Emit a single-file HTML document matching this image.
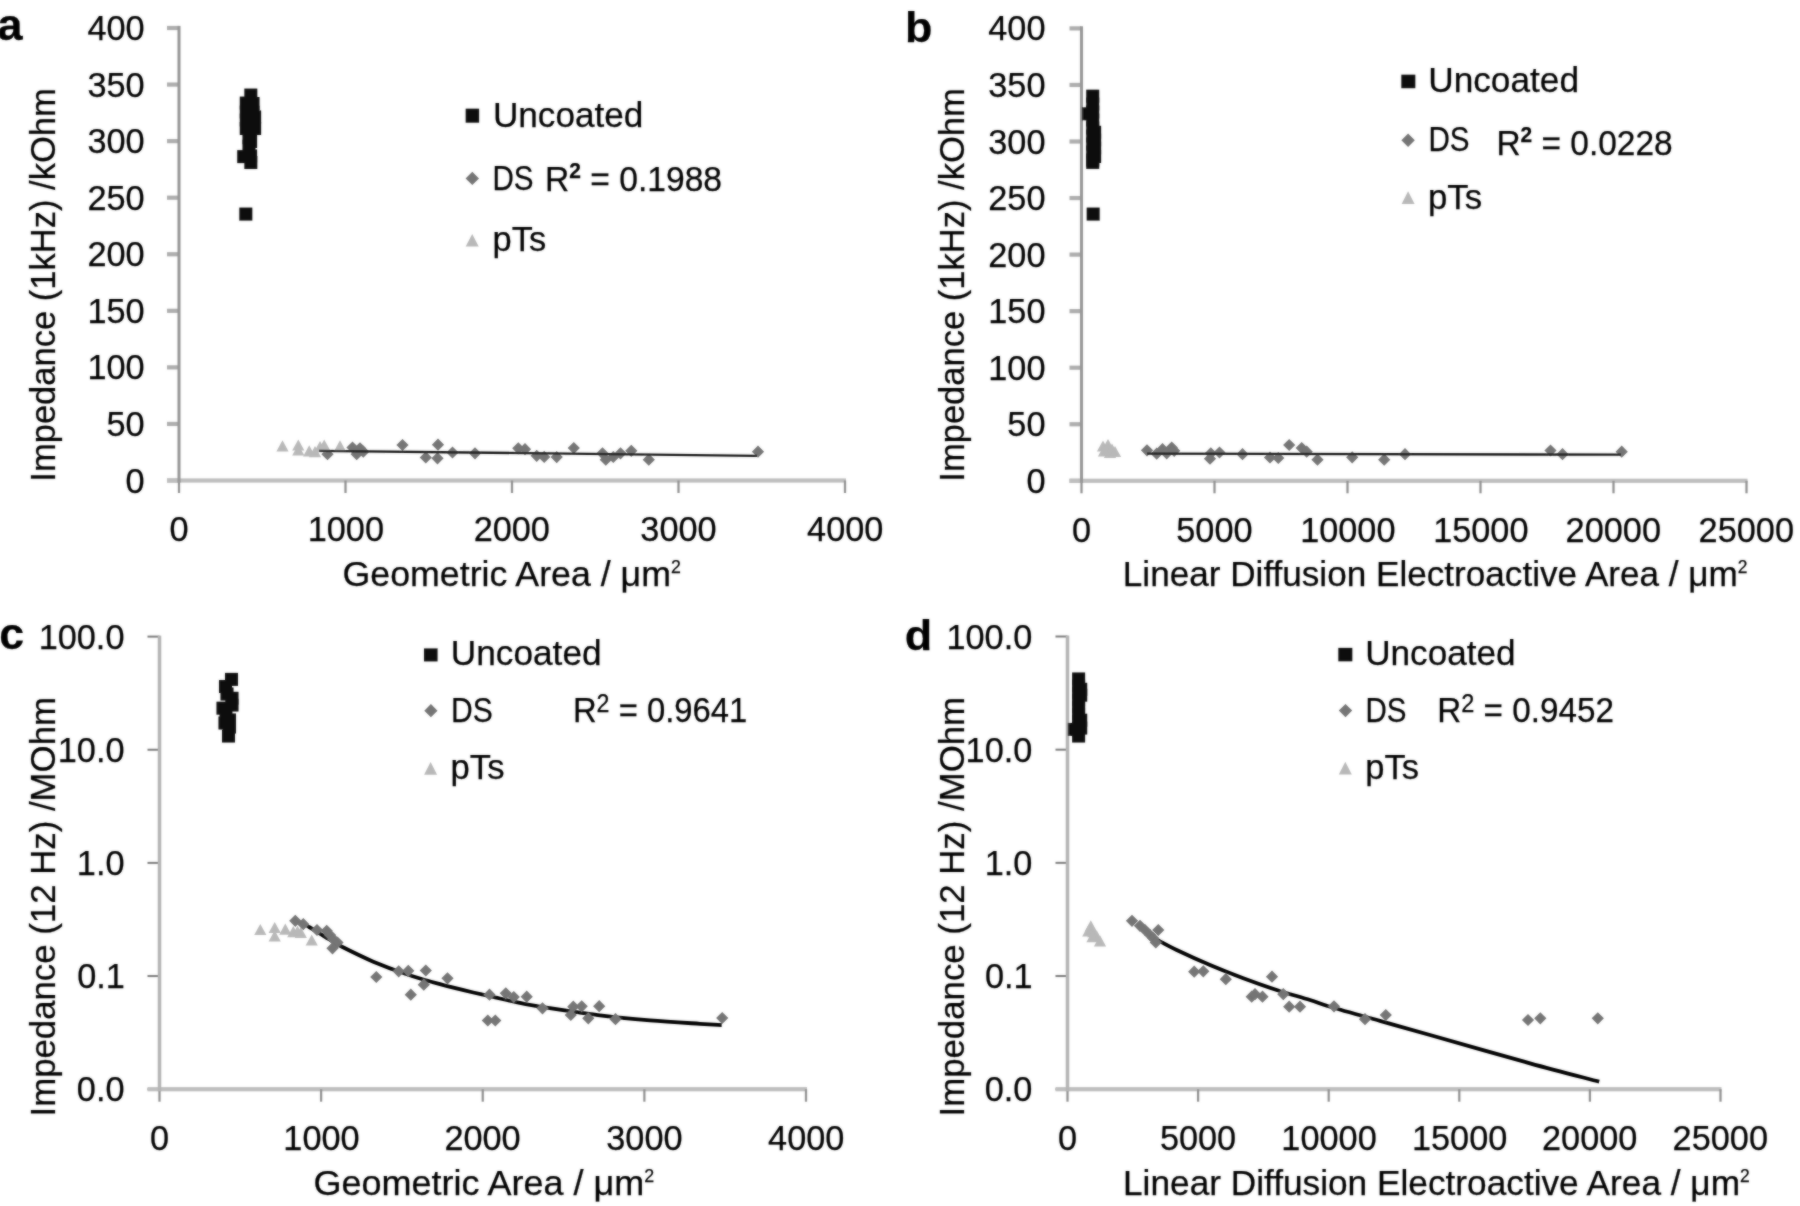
<!DOCTYPE html>
<html lang="en">
<head>
<meta charset="utf-8">
<title>Impedance vs electrode area</title>
<style>
html,body{margin:0;padding:0;background:#fff;}
body{width:1800px;height:1206px;overflow:hidden;}
svg{display:block;}
svg text{font-family:"Liberation Sans", sans-serif;fill:#000000;stroke:#000000;stroke-width:0.25px;}
</style>
</head>
<body>
<svg width="1800" height="1206" viewBox="0 0 1800 1206">
<defs><filter id="soft" x="0" y="0" width="1800" height="1206" filterUnits="userSpaceOnUse"><feGaussianBlur in="SourceGraphic" stdDeviation="0.9" result="b"/><feComposite in="SourceGraphic" in2="b" operator="arithmetic" k1="0" k2="0.45" k3="0.55" k4="0"/></filter></defs>
<rect width="1800" height="1206" fill="#ffffff"/>
<g filter="url(#soft)">
<g id="panel-a">
<rect x="167.0" y="25.90" width="12.0" height="4.2" fill="#adadad"/>
<rect x="167.0" y="82.46" width="12.0" height="4.2" fill="#adadad"/>
<rect x="167.0" y="139.03" width="12.0" height="4.2" fill="#adadad"/>
<rect x="167.0" y="195.59" width="12.0" height="4.2" fill="#adadad"/>
<rect x="167.0" y="252.15" width="12.0" height="4.2" fill="#adadad"/>
<rect x="167.0" y="308.71" width="12.0" height="4.2" fill="#adadad"/>
<rect x="167.0" y="365.27" width="12.0" height="4.2" fill="#adadad"/>
<rect x="167.0" y="421.84" width="12.0" height="4.2" fill="#adadad"/>
<rect x="167.0" y="478.40" width="12.0" height="4.2" fill="#adadad"/>
<rect x="167.0" y="478.40" width="679.0" height="4.2" fill="#bebebe"/>
<rect x="177.90" y="480.5" width="2.2" height="12.5" fill="#8e8e8e"/>
<rect x="344.40" y="480.5" width="2.2" height="12.5" fill="#8e8e8e"/>
<rect x="510.90" y="480.5" width="2.2" height="12.5" fill="#8e8e8e"/>
<rect x="677.40" y="480.5" width="2.2" height="12.5" fill="#8e8e8e"/>
<rect x="843.90" y="480.5" width="2.2" height="12.5" fill="#8e8e8e"/>
<rect x="177.50" y="25.90" width="3.0" height="456.70" fill="#959595"/>
<text x="87.41" y="40.0" font-size="35.3" font-weight="normal" textLength="57.23" lengthAdjust="spacingAndGlyphs">400</text>
<text x="87.41" y="96.6" font-size="35.3" font-weight="normal" textLength="57.23" lengthAdjust="spacingAndGlyphs">350</text>
<text x="87.41" y="153.1" font-size="35.3" font-weight="normal" textLength="57.23" lengthAdjust="spacingAndGlyphs">300</text>
<text x="87.41" y="209.7" font-size="35.3" font-weight="normal" textLength="57.23" lengthAdjust="spacingAndGlyphs">250</text>
<text x="87.41" y="266.2" font-size="35.3" font-weight="normal" textLength="57.23" lengthAdjust="spacingAndGlyphs">200</text>
<text x="87.41" y="322.8" font-size="35.3" font-weight="normal" textLength="57.23" lengthAdjust="spacingAndGlyphs">150</text>
<text x="87.41" y="379.4" font-size="35.3" font-weight="normal" textLength="57.23" lengthAdjust="spacingAndGlyphs">100</text>
<text x="106.45" y="435.9" font-size="35.3" font-weight="normal" textLength="38.15" lengthAdjust="spacingAndGlyphs">50</text>
<text x="125.54" y="492.5" font-size="35.3" font-weight="normal" textLength="19.08" lengthAdjust="spacingAndGlyphs">0</text>
<text x="169.45" y="541.4" font-size="35.3" font-weight="normal" textLength="19.08" lengthAdjust="spacingAndGlyphs">0</text>
<text x="307.70" y="541.4" font-size="35.3" font-weight="normal" textLength="76.30" lengthAdjust="spacingAndGlyphs">1000</text>
<text x="473.66" y="541.4" font-size="35.3" font-weight="normal" textLength="76.30" lengthAdjust="spacingAndGlyphs">2000</text>
<text x="640.37" y="541.4" font-size="35.3" font-weight="normal" textLength="76.30" lengthAdjust="spacingAndGlyphs">3000</text>
<text x="807.11" y="541.4" font-size="35.3" font-weight="normal" textLength="76.30" lengthAdjust="spacingAndGlyphs">4000</text>
<text x="-2.86" y="40.4" font-size="44" font-weight="bold" textLength="25.37" lengthAdjust="spacingAndGlyphs">a</text>
<text transform="translate(54.7 481.68) rotate(-90)" font-size="35.3" textLength="393.52" lengthAdjust="spacingAndGlyphs">Impedance (1kHz) /kOhm</text>
<text x="342.53" y="585.8" font-size="35.3" font-weight="normal" textLength="338.34" lengthAdjust="spacingAndGlyphs">Geometric Area / μm<tspan font-size="17.5" font-weight="normal" dy="-12.5">2</tspan></text>
<rect x="465.7" y="108.7" width="13.4" height="14" fill="#0d0d0d"/>
<text x="492.92" y="126.6" font-size="35.3" font-weight="normal" textLength="150.45" lengthAdjust="spacingAndGlyphs">Uncoated</text>
<path d="M472.3 171.7L479.0 178.4L472.3 185.1L465.6 178.4Z" fill="#747474"/>
<text x="492.39" y="189.6" font-size="35.3" font-weight="normal" textLength="41.10" lengthAdjust="spacingAndGlyphs">DS</text>
<text x="545.06" y="190.9" font-size="35.3" font-weight="normal" textLength="177.02" lengthAdjust="spacingAndGlyphs">R<tspan font-size="22" font-weight="bold" dy="-12.8">2</tspan><tspan dy="12.8"> = 0.1988</tspan></text>
<path d="M472.2 234.0L478.7 246.6L465.7 246.6Z" fill="#b8b8b8"/>
<text x="492.60" y="251.3" font-size="35.3" font-weight="normal" textLength="53.60" lengthAdjust="spacingAndGlyphs">pTs</text>
<path d="M327.5 448.1L333.6 454.2L327.5 460.3L321.4 454.2Z" fill="#747474"/>
<path d="M352.5 441.4L358.6 447.5L352.5 453.6L346.4 447.5Z" fill="#747474"/>
<path d="M360.0 442.2L366.1 448.3L360.0 454.4L353.9 448.3Z" fill="#747474"/>
<path d="M356.7 448.1L362.8 454.2L356.7 460.3L350.6 454.2Z" fill="#747474"/>
<path d="M363.3 445.6L369.4 451.7L363.3 457.8L357.2 451.7Z" fill="#747474"/>
<path d="M402.5 438.9L408.6 445.0L402.5 451.1L396.4 445.0Z" fill="#747474"/>
<path d="M438.0 438.6L444.1 444.7L438.0 450.8L431.9 444.7Z" fill="#747474"/>
<path d="M425.8 451.4L431.9 457.5L425.8 463.6L419.7 457.5Z" fill="#747474"/>
<path d="M437.5 452.2L443.6 458.3L437.5 464.4L431.4 458.3Z" fill="#747474"/>
<path d="M452.5 446.4L458.6 452.5L452.5 458.6L446.4 452.5Z" fill="#747474"/>
<path d="M475.0 447.2L481.1 453.3L475.0 459.4L468.9 453.3Z" fill="#747474"/>
<path d="M518.3 442.2L524.4 448.3L518.3 454.4L512.2 448.3Z" fill="#747474"/>
<path d="M525.0 443.1L531.1 449.2L525.0 455.3L518.9 449.2Z" fill="#747474"/>
<path d="M536.7 449.7L542.8 455.8L536.7 461.9L530.6 455.8Z" fill="#747474"/>
<path d="M544.2 450.8L550.3 456.9L544.2 463.0L538.1 456.9Z" fill="#747474"/>
<path d="M556.7 451.0L562.8 457.1L556.7 463.2L550.6 457.1Z" fill="#747474"/>
<path d="M573.8 441.9L579.9 448.0L573.8 454.1L567.7 448.0Z" fill="#747474"/>
<path d="M602.5 447.2L608.6 453.3L602.5 459.4L596.4 453.3Z" fill="#747474"/>
<path d="M605.8 453.6L611.9 459.7L605.8 465.8L599.7 459.7Z" fill="#747474"/>
<path d="M613.3 450.9L619.4 457.0L613.3 463.1L607.2 457.0Z" fill="#747474"/>
<path d="M620.5 447.2L626.6 453.3L620.5 459.4L614.4 453.3Z" fill="#747474"/>
<path d="M631.3 444.7L637.4 450.8L631.3 456.9L625.2 450.8Z" fill="#747474"/>
<path d="M648.8 453.6L654.9 459.7L648.8 465.8L642.7 459.7Z" fill="#747474"/>
<path d="M758.0 445.6L764.1 451.7L758.0 457.8L751.9 451.7Z" fill="#747474"/>
<path d="M282.5 440.2L288.6 451.4L276.4 451.4Z" fill="#b8b8b8"/>
<path d="M298.3 439.4L304.4 450.6L292.2 450.6Z" fill="#b8b8b8"/>
<path d="M298.3 444.4L304.4 455.6L292.2 455.6Z" fill="#b8b8b8"/>
<path d="M309.2 445.2L315.3 456.4L303.1 456.4Z" fill="#b8b8b8"/>
<path d="M315.0 446.1L321.1 457.3L308.9 457.3Z" fill="#b8b8b8"/>
<path d="M320.0 441.1L326.1 452.3L313.9 452.3Z" fill="#b8b8b8"/>
<path d="M324.2 439.4L330.3 450.6L318.1 450.6Z" fill="#b8b8b8"/>
<path d="M340.0 440.2L346.1 451.4L333.9 451.4Z" fill="#b8b8b8"/>
<line x1="319" y1="450.8" x2="757" y2="455.8" stroke="#161616" stroke-width="2.3"/>
<rect x="244.3" y="88.6" width="13" height="13" fill="#0d0d0d"/>
<rect x="239.8" y="96.6" width="13" height="13" fill="#0d0d0d"/>
<rect x="246.5" y="97.0" width="13" height="13" fill="#0d0d0d"/>
<rect x="239.8" y="105.5" width="13" height="13" fill="#0d0d0d"/>
<rect x="246.5" y="105.5" width="13" height="13" fill="#0d0d0d"/>
<rect x="239.8" y="113.5" width="13" height="13" fill="#0d0d0d"/>
<rect x="248.1" y="110.5" width="13" height="13" fill="#0d0d0d"/>
<rect x="239.8" y="122.0" width="13" height="13" fill="#0d0d0d"/>
<rect x="248.1" y="122.0" width="13" height="13" fill="#0d0d0d"/>
<rect x="242.5" y="131.5" width="13" height="13" fill="#0d0d0d"/>
<rect x="244.1" y="135.0" width="13" height="13" fill="#0d0d0d"/>
<rect x="242.5" y="139.5" width="13" height="13" fill="#0d0d0d"/>
<rect x="237.2" y="150.1" width="13" height="13" fill="#0d0d0d"/>
<rect x="244.1" y="149.5" width="13" height="13" fill="#0d0d0d"/>
<rect x="244.3" y="156.0" width="13" height="13" fill="#0d0d0d"/>
<rect x="239.3" y="207.6" width="13" height="13" fill="#0d0d0d"/>
</g>
<g id="panel-b">
<rect x="1069.5" y="26.30" width="12.0" height="4.2" fill="#adadad"/>
<rect x="1069.5" y="82.85" width="12.0" height="4.2" fill="#adadad"/>
<rect x="1069.5" y="139.40" width="12.0" height="4.2" fill="#adadad"/>
<rect x="1069.5" y="195.95" width="12.0" height="4.2" fill="#adadad"/>
<rect x="1069.5" y="252.50" width="12.0" height="4.2" fill="#adadad"/>
<rect x="1069.5" y="309.05" width="12.0" height="4.2" fill="#adadad"/>
<rect x="1069.5" y="365.60" width="12.0" height="4.2" fill="#adadad"/>
<rect x="1069.5" y="422.15" width="12.0" height="4.2" fill="#adadad"/>
<rect x="1069.5" y="478.70" width="12.0" height="4.2" fill="#adadad"/>
<rect x="1069.5" y="478.70" width="678.0" height="4.2" fill="#bebebe"/>
<rect x="1080.40" y="480.8" width="2.2" height="12.5" fill="#8e8e8e"/>
<rect x="1213.40" y="480.8" width="2.2" height="12.5" fill="#8e8e8e"/>
<rect x="1346.40" y="480.8" width="2.2" height="12.5" fill="#8e8e8e"/>
<rect x="1479.40" y="480.8" width="2.2" height="12.5" fill="#8e8e8e"/>
<rect x="1612.40" y="480.8" width="2.2" height="12.5" fill="#8e8e8e"/>
<rect x="1745.40" y="480.8" width="2.2" height="12.5" fill="#8e8e8e"/>
<rect x="1080.00" y="26.30" width="3.0" height="456.60" fill="#959595"/>
<text x="988.31" y="40.4" font-size="35.3" font-weight="normal" textLength="57.23" lengthAdjust="spacingAndGlyphs">400</text>
<text x="988.31" y="97.0" font-size="35.3" font-weight="normal" textLength="57.23" lengthAdjust="spacingAndGlyphs">350</text>
<text x="988.31" y="153.5" font-size="35.3" font-weight="normal" textLength="57.23" lengthAdjust="spacingAndGlyphs">300</text>
<text x="988.31" y="210.1" font-size="35.3" font-weight="normal" textLength="57.23" lengthAdjust="spacingAndGlyphs">250</text>
<text x="988.31" y="266.6" font-size="35.3" font-weight="normal" textLength="57.23" lengthAdjust="spacingAndGlyphs">200</text>
<text x="988.31" y="323.1" font-size="35.3" font-weight="normal" textLength="57.23" lengthAdjust="spacingAndGlyphs">150</text>
<text x="988.31" y="379.7" font-size="35.3" font-weight="normal" textLength="57.23" lengthAdjust="spacingAndGlyphs">100</text>
<text x="1007.35" y="436.2" font-size="35.3" font-weight="normal" textLength="38.15" lengthAdjust="spacingAndGlyphs">50</text>
<text x="1026.44" y="492.8" font-size="35.3" font-weight="normal" textLength="19.08" lengthAdjust="spacingAndGlyphs">0</text>
<text x="1071.95" y="541.8" font-size="35.3" font-weight="normal" textLength="19.08" lengthAdjust="spacingAndGlyphs">0</text>
<text x="1176.31" y="541.8" font-size="35.3" font-weight="normal" textLength="76.30" lengthAdjust="spacingAndGlyphs">5000</text>
<text x="1300.15" y="541.8" font-size="35.3" font-weight="normal" textLength="95.38" lengthAdjust="spacingAndGlyphs">10000</text>
<text x="1433.15" y="541.8" font-size="35.3" font-weight="normal" textLength="95.38" lengthAdjust="spacingAndGlyphs">15000</text>
<text x="1565.61" y="541.8" font-size="35.3" font-weight="normal" textLength="95.38" lengthAdjust="spacingAndGlyphs">20000</text>
<text x="1698.61" y="541.8" font-size="35.3" font-weight="normal" textLength="95.38" lengthAdjust="spacingAndGlyphs">25000</text>
<text x="905.04" y="41.8" font-size="41.7" font-weight="bold" textLength="27.41" lengthAdjust="spacingAndGlyphs">b</text>
<text transform="translate(963.8 481.68) rotate(-90)" font-size="35.3" textLength="393.52" lengthAdjust="spacingAndGlyphs">Impedance (1kHz) /kOhm</text>
<text x="1122.84" y="585.8" font-size="35.3" font-weight="normal" textLength="624.72" lengthAdjust="spacingAndGlyphs">Linear Diffusion Electroactive Area / μm<tspan font-size="17.5" font-weight="normal" dy="-12.5">2</tspan></text>
<rect x="1401.3" y="74.7" width="14" height="13.5" fill="#0d0d0d"/>
<text x="1428.22" y="91.9" font-size="35.3" font-weight="normal" textLength="150.76" lengthAdjust="spacingAndGlyphs">Uncoated</text>
<path d="M1408.1 133.6L1414.8 140.3L1408.1 147.0L1401.4 140.3Z" fill="#747474"/>
<text x="1428.49" y="151.3" font-size="35.3" font-weight="normal" textLength="41.10" lengthAdjust="spacingAndGlyphs">DS</text>
<text x="1496.47" y="155.2" font-size="35.3" font-weight="normal" textLength="176.10" lengthAdjust="spacingAndGlyphs">R<tspan font-size="22" font-weight="bold" dy="-12.8">2</tspan><tspan dy="12.8"> = 0.0228</tspan></text>
<path d="M1408.1 191.3L1414.6 203.9L1401.6 203.9Z" fill="#b8b8b8"/>
<text x="1427.98" y="209.4" font-size="35.3" font-weight="normal" textLength="54.13" lengthAdjust="spacingAndGlyphs">pTs</text>
<path d="M1147.0 444.2L1153.1 450.3L1147.0 456.4L1140.9 450.3Z" fill="#747474"/>
<path d="M1156.7 447.6L1162.8 453.7L1156.7 459.8L1150.6 453.7Z" fill="#747474"/>
<path d="M1162.5 443.1L1168.6 449.2L1162.5 455.3L1156.4 449.2Z" fill="#747474"/>
<path d="M1166.7 447.2L1172.8 453.3L1166.7 459.4L1160.6 453.3Z" fill="#747474"/>
<path d="M1171.7 441.4L1177.8 447.5L1171.7 453.6L1165.6 447.5Z" fill="#747474"/>
<path d="M1174.2 444.7L1180.3 450.8L1174.2 456.9L1168.1 450.8Z" fill="#747474"/>
<path d="M1210.8 447.2L1216.9 453.3L1210.8 459.4L1204.7 453.3Z" fill="#747474"/>
<path d="M1210.0 452.6L1216.1 458.7L1210.0 464.8L1203.9 458.7Z" fill="#747474"/>
<path d="M1219.5 446.4L1225.6 452.5L1219.5 458.6L1213.4 452.5Z" fill="#747474"/>
<path d="M1242.5 448.1L1248.6 454.2L1242.5 460.3L1236.4 454.2Z" fill="#747474"/>
<path d="M1270.0 451.4L1276.1 457.5L1270.0 463.6L1263.9 457.5Z" fill="#747474"/>
<path d="M1278.3 451.9L1284.4 458.0L1278.3 464.1L1272.2 458.0Z" fill="#747474"/>
<path d="M1289.2 438.9L1295.3 445.0L1289.2 451.1L1283.1 445.0Z" fill="#747474"/>
<path d="M1301.7 441.9L1307.8 448.0L1301.7 454.1L1295.6 448.0Z" fill="#747474"/>
<path d="M1306.7 445.6L1312.8 451.7L1306.7 457.8L1300.6 451.7Z" fill="#747474"/>
<path d="M1317.5 453.6L1323.6 459.7L1317.5 465.8L1311.4 459.7Z" fill="#747474"/>
<path d="M1352.2 451.2L1358.3 457.3L1352.2 463.4L1346.1 457.3Z" fill="#747474"/>
<path d="M1384.2 453.6L1390.3 459.7L1384.2 465.8L1378.1 459.7Z" fill="#747474"/>
<path d="M1405.0 448.1L1411.1 454.2L1405.0 460.3L1398.9 454.2Z" fill="#747474"/>
<path d="M1550.5 444.4L1556.6 450.5L1550.5 456.6L1544.4 450.5Z" fill="#747474"/>
<path d="M1562.5 448.1L1568.6 454.2L1562.5 460.3L1556.4 454.2Z" fill="#747474"/>
<path d="M1621.7 445.6L1627.8 451.7L1621.7 457.8L1615.6 451.7Z" fill="#747474"/>
<path d="M1103.0 440.4L1109.1 451.6L1096.9 451.6Z" fill="#b8b8b8"/>
<path d="M1108.0 438.9L1114.1 450.1L1101.9 450.1Z" fill="#b8b8b8"/>
<path d="M1106.0 444.4L1112.1 455.6L1099.9 455.6Z" fill="#b8b8b8"/>
<path d="M1112.0 443.4L1118.1 454.6L1105.9 454.6Z" fill="#b8b8b8"/>
<path d="M1110.0 446.9L1116.1 458.1L1103.9 458.1Z" fill="#b8b8b8"/>
<path d="M1115.0 445.9L1121.1 457.1L1108.9 457.1Z" fill="#b8b8b8"/>
<path d="M1104.0 445.4L1110.1 456.6L1097.9 456.6Z" fill="#b8b8b8"/>
<line x1="1147" y1="453.7" x2="1621" y2="454.7" stroke="#161616" stroke-width="2.3"/>
<rect x="1086.2" y="89.7" width="13" height="13" fill="#0d0d0d"/>
<rect x="1086.2" y="97.5" width="13" height="13" fill="#0d0d0d"/>
<rect x="1086.2" y="105.5" width="13" height="13" fill="#0d0d0d"/>
<rect x="1081.9" y="107.3" width="13" height="13" fill="#0d0d0d"/>
<rect x="1086.2" y="113.5" width="13" height="13" fill="#0d0d0d"/>
<rect x="1086.2" y="121.5" width="13" height="13" fill="#0d0d0d"/>
<rect x="1088.1" y="125.8" width="13" height="13" fill="#0d0d0d"/>
<rect x="1086.2" y="129.5" width="13" height="13" fill="#0d0d0d"/>
<rect x="1088.1" y="133.5" width="13" height="13" fill="#0d0d0d"/>
<rect x="1086.2" y="137.5" width="13" height="13" fill="#0d0d0d"/>
<rect x="1088.1" y="141.5" width="13" height="13" fill="#0d0d0d"/>
<rect x="1086.2" y="145.5" width="13" height="13" fill="#0d0d0d"/>
<rect x="1088.1" y="150.0" width="13" height="13" fill="#0d0d0d"/>
<rect x="1086.2" y="153.5" width="13" height="13" fill="#0d0d0d"/>
<rect x="1086.2" y="155.9" width="13" height="13" fill="#0d0d0d"/>
<rect x="1086.7" y="207.6" width="13" height="13" fill="#0d0d0d"/>
</g>
<g id="panel-c">
<rect x="147.5" y="635.60" width="12.0" height="2.0" fill="#7a7a7a"/>
<rect x="147.5" y="748.75" width="12.0" height="2.0" fill="#7a7a7a"/>
<rect x="147.5" y="861.90" width="12.0" height="2.0" fill="#7a7a7a"/>
<rect x="147.5" y="975.05" width="12.0" height="2.0" fill="#7a7a7a"/>
<rect x="147.5" y="1088.20" width="12.0" height="2.0" fill="#7a7a7a"/>
<rect x="147.5" y="1087.10" width="659.5" height="4.2" fill="#bebebe"/>
<rect x="158.40" y="1089.2" width="2.2" height="12.5" fill="#8e8e8e"/>
<rect x="320.02" y="1089.2" width="2.2" height="12.5" fill="#8e8e8e"/>
<rect x="481.65" y="1089.2" width="2.2" height="12.5" fill="#8e8e8e"/>
<rect x="643.27" y="1089.2" width="2.2" height="12.5" fill="#8e8e8e"/>
<rect x="804.90" y="1089.2" width="2.2" height="12.5" fill="#8e8e8e"/>
<rect x="157.75" y="635.60" width="3.5" height="455.70" fill="#b4b4b4"/>
<text x="38.67" y="648.6" font-size="35.3" font-weight="normal" textLength="85.83" lengthAdjust="spacingAndGlyphs">100.0</text>
<text x="57.77" y="761.8" font-size="35.3" font-weight="normal" textLength="66.76" lengthAdjust="spacingAndGlyphs">10.0</text>
<text x="76.86" y="874.9" font-size="35.3" font-weight="normal" textLength="47.68" lengthAdjust="spacingAndGlyphs">1.0</text>
<text x="77.23" y="988.1" font-size="35.3" font-weight="normal" textLength="47.68" lengthAdjust="spacingAndGlyphs">0.1</text>
<text x="76.86" y="1101.2" font-size="35.3" font-weight="normal" textLength="47.68" lengthAdjust="spacingAndGlyphs">0.0</text>
<text x="149.95" y="1150.4" font-size="35.3" font-weight="normal" textLength="19.08" lengthAdjust="spacingAndGlyphs">0</text>
<text x="283.33" y="1150.4" font-size="35.3" font-weight="normal" textLength="76.30" lengthAdjust="spacingAndGlyphs">1000</text>
<text x="444.41" y="1150.4" font-size="35.3" font-weight="normal" textLength="76.30" lengthAdjust="spacingAndGlyphs">2000</text>
<text x="606.25" y="1150.4" font-size="35.3" font-weight="normal" textLength="76.30" lengthAdjust="spacingAndGlyphs">3000</text>
<text x="768.11" y="1150.4" font-size="35.3" font-weight="normal" textLength="76.30" lengthAdjust="spacingAndGlyphs">4000</text>
<text x="-0.73" y="649.2" font-size="43.5" font-weight="bold" textLength="24.82" lengthAdjust="spacingAndGlyphs">c</text>
<text transform="translate(55.0 1116.51) rotate(-90)" font-size="35.3" textLength="419.47" lengthAdjust="spacingAndGlyphs">Impedance (12 Hz) /MOhm</text>
<text x="313.41" y="1194.7" font-size="35.3" font-weight="normal" textLength="340.76" lengthAdjust="spacingAndGlyphs">Geometric Area / μm<tspan font-size="17.5" font-weight="normal" dy="-12.5">2</tspan></text>
<rect x="424.0" y="648.4" width="13.6" height="13" fill="#0d0d0d"/>
<text x="450.82" y="664.8" font-size="35.3" font-weight="normal" textLength="150.76" lengthAdjust="spacingAndGlyphs">Uncoated</text>
<path d="M430.9 704.1L437.5 710.7L430.9 717.3L424.3 710.7Z" fill="#747474"/>
<text x="451.05" y="722.3" font-size="35.3" font-weight="normal" textLength="41.76" lengthAdjust="spacingAndGlyphs">DS</text>
<text x="572.93" y="722.3" font-size="35.3" font-weight="normal" textLength="174.29" lengthAdjust="spacingAndGlyphs">R<tspan font-size="25" font-weight="normal" dy="-10">2</tspan><tspan dy="10"> = 0.9641</tspan></text>
<path d="M430.6 762.1L437.1 774.7L424.1 774.7Z" fill="#b8b8b8"/>
<text x="450.59" y="778.7" font-size="35.3" font-weight="normal" textLength="53.92" lengthAdjust="spacingAndGlyphs">pTs</text>
<path d="M260.3 923.9L266.4 935.1L254.2 935.1Z" fill="#b8b8b8"/>
<path d="M274.7 921.9L280.8 933.1L268.6 933.1Z" fill="#b8b8b8"/>
<path d="M274.7 930.2L280.8 941.4L268.6 941.4Z" fill="#b8b8b8"/>
<path d="M285.3 923.6L291.4 934.8L279.2 934.8Z" fill="#b8b8b8"/>
<path d="M293.3 926.1L299.4 937.3L287.2 937.3Z" fill="#b8b8b8"/>
<path d="M297.5 925.7L303.6 936.9L291.4 936.9Z" fill="#b8b8b8"/>
<path d="M300.8 926.9L306.9 938.1L294.7 938.1Z" fill="#b8b8b8"/>
<path d="M311.7 934.4L317.8 945.6L305.6 945.6Z" fill="#b8b8b8"/>
<path d="M303.0 923.5C304.2 924.2 306.3 925.3 310.0 927.5C313.7 929.7 320.0 933.8 325.0 936.8C330.0 939.8 331.9 941.6 340.0 945.8C348.1 949.9 362.2 957.0 373.3 961.7C384.4 966.4 395.6 970.5 406.7 974.2C417.8 978.0 428.9 981.2 440.0 984.2C451.1 987.2 462.2 989.9 473.3 992.5C484.4 995.1 495.6 997.6 506.7 1000.0C517.8 1002.4 524.5 1004.2 540.0 1006.7C555.5 1009.2 581.7 1013.0 600.0 1015.3C618.3 1017.6 633.3 1018.9 650.0 1020.3C666.7 1021.7 688.0 1023.0 700.0 1023.8C712.0 1024.6 718.1 1024.8 721.7 1025.0" fill="none" stroke="#000" stroke-width="3.8" stroke-linecap="butt"/>
<path d="M295.3 914.7L301.4 920.8L295.3 926.9L289.2 920.8Z" fill="#747474"/>
<path d="M303.3 918.1L309.4 924.2L303.3 930.3L297.2 924.2Z" fill="#747474"/>
<path d="M317.0 923.9L323.1 930.0L317.0 936.1L310.9 930.0Z" fill="#747474"/>
<path d="M326.7 924.7L332.8 930.8L326.7 936.9L320.6 930.8Z" fill="#747474"/>
<path d="M330.0 928.9L336.1 935.0L330.0 941.1L323.9 935.0Z" fill="#747474"/>
<path d="M333.3 933.1L339.4 939.2L333.3 945.3L327.2 939.2Z" fill="#747474"/>
<path d="M337.5 936.4L343.6 942.5L337.5 948.6L331.4 942.5Z" fill="#747474"/>
<path d="M332.5 942.2L338.6 948.3L332.5 954.4L326.4 948.3Z" fill="#747474"/>
<path d="M376.3 970.9L382.4 977.0L376.3 983.1L370.2 977.0Z" fill="#747474"/>
<path d="M398.7 965.2L404.8 971.3L398.7 977.4L392.6 971.3Z" fill="#747474"/>
<path d="M408.3 964.7L414.4 970.8L408.3 976.9L402.2 970.8Z" fill="#747474"/>
<path d="M425.8 964.4L431.9 970.5L425.8 976.6L419.7 970.5Z" fill="#747474"/>
<path d="M410.8 988.6L416.9 994.7L410.8 1000.8L404.7 994.7Z" fill="#747474"/>
<path d="M423.8 978.6L429.9 984.7L423.8 990.8L417.7 984.7Z" fill="#747474"/>
<path d="M447.5 972.2L453.6 978.3L447.5 984.4L441.4 978.3Z" fill="#747474"/>
<path d="M489.5 988.6L495.6 994.7L489.5 1000.8L483.4 994.7Z" fill="#747474"/>
<path d="M505.8 987.2L511.9 993.3L505.8 999.4L499.7 993.3Z" fill="#747474"/>
<path d="M513.8 990.9L519.9 997.0L513.8 1003.1L507.7 997.0Z" fill="#747474"/>
<path d="M526.7 990.6L532.8 996.7L526.7 1002.8L520.6 996.7Z" fill="#747474"/>
<path d="M487.8 1014.4L493.9 1020.5L487.8 1026.6L481.7 1020.5Z" fill="#747474"/>
<path d="M495.3 1014.4L501.4 1020.5L495.3 1026.6L489.2 1020.5Z" fill="#747474"/>
<path d="M542.5 1002.2L548.6 1008.3L542.5 1014.4L536.4 1008.3Z" fill="#747474"/>
<path d="M573.3 1000.6L579.4 1006.7L573.3 1012.8L567.2 1006.7Z" fill="#747474"/>
<path d="M581.7 1000.2L587.8 1006.3L581.7 1012.4L575.6 1006.3Z" fill="#747474"/>
<path d="M570.8 1008.9L576.9 1015.0L570.8 1021.1L564.7 1015.0Z" fill="#747474"/>
<path d="M588.3 1012.2L594.4 1018.3L588.3 1024.4L582.2 1018.3Z" fill="#747474"/>
<path d="M599.2 1000.1L605.3 1006.2L599.2 1012.3L593.1 1006.2Z" fill="#747474"/>
<path d="M615.5 1013.1L621.6 1019.2L615.5 1025.3L609.4 1019.2Z" fill="#747474"/>
<path d="M722.2 1011.9L728.3 1018.0L722.2 1024.1L716.1 1018.0Z" fill="#747474"/>
<rect x="225.0" y="672.9" width="13" height="13" fill="#0d0d0d"/>
<rect x="219.0" y="680.0" width="13" height="13" fill="#0d0d0d"/>
<rect x="220.5" y="687.5" width="13" height="13" fill="#0d0d0d"/>
<rect x="225.5" y="691.8" width="13" height="13" fill="#0d0d0d"/>
<rect x="225.5" y="698.5" width="13" height="13" fill="#0d0d0d"/>
<rect x="216.5" y="701.7" width="13" height="13" fill="#0d0d0d"/>
<rect x="219.5" y="708.5" width="13" height="13" fill="#0d0d0d"/>
<rect x="223.0" y="713.5" width="13" height="13" fill="#0d0d0d"/>
<rect x="218.5" y="716.5" width="13" height="13" fill="#0d0d0d"/>
<rect x="223.0" y="720.5" width="13" height="13" fill="#0d0d0d"/>
<rect x="222.0" y="729.5" width="13" height="13" fill="#0d0d0d"/>
</g>
<g id="panel-d">
<rect x="1055.5" y="635.50" width="12.0" height="2.0" fill="#7a7a7a"/>
<rect x="1055.5" y="748.67" width="12.0" height="2.0" fill="#7a7a7a"/>
<rect x="1055.5" y="861.85" width="12.0" height="2.0" fill="#7a7a7a"/>
<rect x="1055.5" y="975.03" width="12.0" height="2.0" fill="#7a7a7a"/>
<rect x="1055.5" y="1088.20" width="12.0" height="2.0" fill="#7a7a7a"/>
<rect x="1055.5" y="1087.10" width="666.0" height="4.2" fill="#bebebe"/>
<rect x="1066.40" y="1089.2" width="2.2" height="12.5" fill="#8e8e8e"/>
<rect x="1197.00" y="1089.2" width="2.2" height="12.5" fill="#8e8e8e"/>
<rect x="1327.60" y="1089.2" width="2.2" height="12.5" fill="#8e8e8e"/>
<rect x="1458.20" y="1089.2" width="2.2" height="12.5" fill="#8e8e8e"/>
<rect x="1588.80" y="1089.2" width="2.2" height="12.5" fill="#8e8e8e"/>
<rect x="1719.40" y="1089.2" width="2.2" height="12.5" fill="#8e8e8e"/>
<rect x="1065.75" y="635.50" width="3.5" height="455.80" fill="#b4b4b4"/>
<text x="946.47" y="648.5" font-size="35.3" font-weight="normal" textLength="85.83" lengthAdjust="spacingAndGlyphs">100.0</text>
<text x="965.57" y="761.7" font-size="35.3" font-weight="normal" textLength="66.76" lengthAdjust="spacingAndGlyphs">10.0</text>
<text x="984.66" y="874.9" font-size="35.3" font-weight="normal" textLength="47.68" lengthAdjust="spacingAndGlyphs">1.0</text>
<text x="985.03" y="988.0" font-size="35.3" font-weight="normal" textLength="47.68" lengthAdjust="spacingAndGlyphs">0.1</text>
<text x="984.66" y="1101.2" font-size="35.3" font-weight="normal" textLength="47.68" lengthAdjust="spacingAndGlyphs">0.0</text>
<text x="1057.95" y="1150.0" font-size="35.3" font-weight="normal" textLength="19.08" lengthAdjust="spacingAndGlyphs">0</text>
<text x="1159.91" y="1150.0" font-size="35.3" font-weight="normal" textLength="76.30" lengthAdjust="spacingAndGlyphs">5000</text>
<text x="1281.35" y="1150.0" font-size="35.3" font-weight="normal" textLength="95.38" lengthAdjust="spacingAndGlyphs">10000</text>
<text x="1411.95" y="1150.0" font-size="35.3" font-weight="normal" textLength="95.38" lengthAdjust="spacingAndGlyphs">15000</text>
<text x="1542.01" y="1150.0" font-size="35.3" font-weight="normal" textLength="95.38" lengthAdjust="spacingAndGlyphs">20000</text>
<text x="1672.61" y="1150.0" font-size="35.3" font-weight="normal" textLength="95.38" lengthAdjust="spacingAndGlyphs">25000</text>
<text x="904.68" y="650.2" font-size="41.7" font-weight="bold" textLength="27.44" lengthAdjust="spacingAndGlyphs">d</text>
<text transform="translate(963.8 1116.51) rotate(-90)" font-size="35.3" textLength="419.57" lengthAdjust="spacingAndGlyphs">Impedance (12 Hz) /MOhm</text>
<text x="1123.03" y="1194.7" font-size="35.3" font-weight="normal" textLength="626.73" lengthAdjust="spacingAndGlyphs">Linear Diffusion Electroactive Area / μm<tspan font-size="17.5" font-weight="normal" dy="-12.5">2</tspan></text>
<rect x="1338.3" y="647.9" width="14" height="13.4" fill="#0d0d0d"/>
<text x="1365.22" y="664.8" font-size="35.3" font-weight="normal" textLength="150.34" lengthAdjust="spacingAndGlyphs">Uncoated</text>
<path d="M1345.5 703.9L1352.2 710.6L1345.5 717.3L1338.8 710.6Z" fill="#747474"/>
<text x="1365.49" y="722.3" font-size="35.3" font-weight="normal" textLength="40.99" lengthAdjust="spacingAndGlyphs">DS</text>
<text x="1437.29" y="722.3" font-size="35.3" font-weight="normal" textLength="176.61" lengthAdjust="spacingAndGlyphs">R<tspan font-size="25" font-weight="normal" dy="-10">2</tspan><tspan dy="10"> = 0.9452</tspan></text>
<path d="M1345.3 761.8L1351.8 774.4L1338.8 774.4Z" fill="#b8b8b8"/>
<text x="1365.30" y="778.7" font-size="35.3" font-weight="normal" textLength="53.71" lengthAdjust="spacingAndGlyphs">pTs</text>
<path d="M1090.8 920.2L1096.9 931.4L1084.7 931.4Z" fill="#b8b8b8"/>
<path d="M1093.3 926.1L1099.4 937.3L1087.2 937.3Z" fill="#b8b8b8"/>
<path d="M1088.3 925.2L1094.4 936.4L1082.2 936.4Z" fill="#b8b8b8"/>
<path d="M1096.7 930.2L1102.8 941.4L1090.6 941.4Z" fill="#b8b8b8"/>
<path d="M1092.5 931.1L1098.6 942.3L1086.4 942.3Z" fill="#b8b8b8"/>
<path d="M1100.0 935.2L1106.1 946.4L1093.9 946.4Z" fill="#b8b8b8"/>
<path d="M1157.5 940.0C1160.7 941.7 1168.0 945.8 1176.7 950.0C1185.5 954.2 1198.9 960.3 1210.0 965.0C1221.1 969.7 1232.2 974.1 1243.3 978.3C1254.4 982.5 1265.6 986.4 1276.7 990.0C1287.8 993.6 1301.1 997.2 1310.0 1000.0C1318.9 1002.8 1318.3 1003.2 1330.0 1006.7C1341.7 1010.2 1363.3 1016.2 1380.0 1020.9C1396.7 1025.6 1405.0 1027.9 1430.0 1035.0C1455.0 1042.1 1501.8 1055.5 1530.0 1063.3C1558.2 1071.1 1587.7 1078.6 1599.2 1081.7" fill="none" stroke="#000" stroke-width="3.8" stroke-linecap="butt"/>
<path d="M1132.0 914.7L1138.1 920.8L1132.0 926.9L1125.9 920.8Z" fill="#747474"/>
<path d="M1140.0 919.7L1146.1 925.8L1140.0 931.9L1133.9 925.8Z" fill="#747474"/>
<path d="M1145.0 923.9L1151.1 930.0L1145.0 936.1L1138.9 930.0Z" fill="#747474"/>
<path d="M1150.0 928.9L1156.1 935.0L1150.0 941.1L1143.9 935.0Z" fill="#747474"/>
<path d="M1158.3 923.9L1164.4 930.0L1158.3 936.1L1152.2 930.0Z" fill="#747474"/>
<path d="M1153.3 932.2L1159.4 938.3L1153.3 944.4L1147.2 938.3Z" fill="#747474"/>
<path d="M1155.8 936.4L1161.9 942.5L1155.8 948.6L1149.7 942.5Z" fill="#747474"/>
<path d="M1194.2 965.6L1200.3 971.7L1194.2 977.8L1188.1 971.7Z" fill="#747474"/>
<path d="M1203.3 965.2L1209.4 971.3L1203.3 977.4L1197.2 971.3Z" fill="#747474"/>
<path d="M1225.8 973.1L1231.9 979.2L1225.8 985.3L1219.7 979.2Z" fill="#747474"/>
<path d="M1272.0 970.6L1278.1 976.7L1272.0 982.8L1265.9 976.7Z" fill="#747474"/>
<path d="M1251.7 990.6L1257.8 996.7L1251.7 1002.8L1245.6 996.7Z" fill="#747474"/>
<path d="M1255.0 988.1L1261.1 994.2L1255.0 1000.3L1248.9 994.2Z" fill="#747474"/>
<path d="M1262.5 990.6L1268.6 996.7L1262.5 1002.8L1256.4 996.7Z" fill="#747474"/>
<path d="M1283.3 988.1L1289.4 994.2L1283.3 1000.3L1277.2 994.2Z" fill="#747474"/>
<path d="M1289.2 1000.6L1295.3 1006.7L1289.2 1012.8L1283.1 1006.7Z" fill="#747474"/>
<path d="M1300.0 1000.6L1306.1 1006.7L1300.0 1012.8L1293.9 1006.7Z" fill="#747474"/>
<path d="M1334.0 1000.2L1340.1 1006.3L1334.0 1012.4L1327.9 1006.3Z" fill="#747474"/>
<path d="M1365.0 1013.1L1371.1 1019.2L1365.0 1025.3L1358.9 1019.2Z" fill="#747474"/>
<path d="M1385.8 1008.9L1391.9 1015.0L1385.8 1021.1L1379.7 1015.0Z" fill="#747474"/>
<path d="M1528.0 1013.9L1534.1 1020.0L1528.0 1026.1L1521.9 1020.0Z" fill="#747474"/>
<path d="M1540.3 1012.2L1546.4 1018.3L1540.3 1024.4L1534.2 1018.3Z" fill="#747474"/>
<path d="M1597.8 1012.2L1603.9 1018.3L1597.8 1024.4L1591.7 1018.3Z" fill="#747474"/>
<rect x="1072.1" y="672.5" width="13" height="13" fill="#0d0d0d"/>
<rect x="1072.1" y="679.5" width="13" height="13" fill="#0d0d0d"/>
<rect x="1072.1" y="686.5" width="13" height="13" fill="#0d0d0d"/>
<rect x="1072.1" y="693.5" width="13" height="13" fill="#0d0d0d"/>
<rect x="1072.1" y="700.5" width="13" height="13" fill="#0d0d0d"/>
<rect x="1072.1" y="707.5" width="13" height="13" fill="#0d0d0d"/>
<rect x="1072.1" y="714.5" width="13" height="13" fill="#0d0d0d"/>
<rect x="1072.1" y="721.5" width="13" height="13" fill="#0d0d0d"/>
<rect x="1072.1" y="729.5" width="13" height="13" fill="#0d0d0d"/>
<rect x="1074.2" y="682.8" width="13" height="13" fill="#0d0d0d"/>
<rect x="1074.2" y="688.7" width="13" height="13" fill="#0d0d0d"/>
<rect x="1074.2" y="713.7" width="13" height="13" fill="#0d0d0d"/>
<rect x="1074.2" y="721.5" width="13" height="13" fill="#0d0d0d"/>
<rect x="1067.8" y="722.9" width="13" height="13" fill="#0d0d0d"/>
</g>
</g>
</svg>
</body>
</html>
